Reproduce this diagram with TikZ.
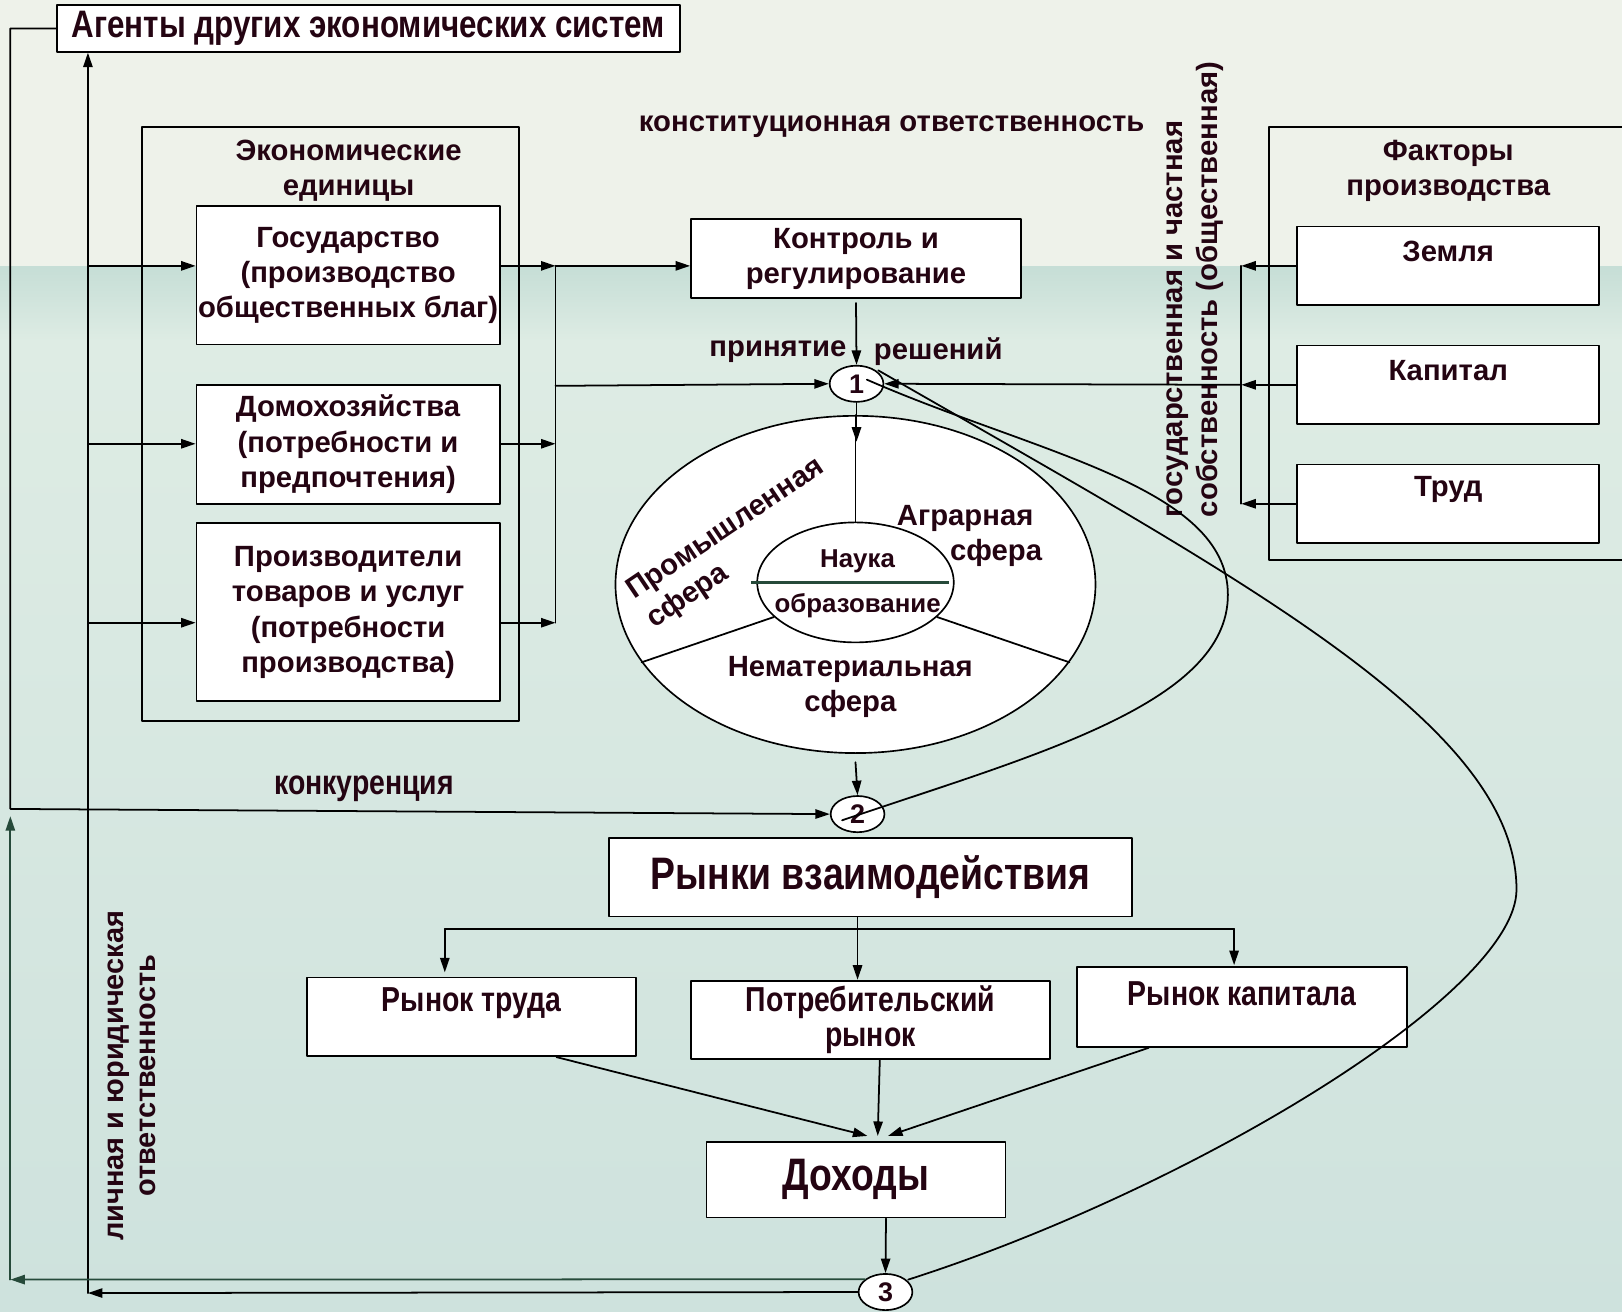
\documentclass[tikz,border=0pt]{standalone}
\usepackage{fontspec}
\setmainfont{Liberation Sans}
\newfontfamily\narrowfont[FakeStretch=0.82]{Liberation Sans}
\usetikzlibrary{arrows.meta,positioning,shapes.geometric}
\definecolor{bgtop}{RGB}{238,242,234}
\definecolor{bgband}{RGB}{198,222,214}
\definecolor{bgmid}{RGB}{222,236,228}
\definecolor{bglow}{RGB}{206,226,221}
\definecolor{txt}{RGB}{36,4,18}
\definecolor{dgreen}{RGB}{38,74,58}
\begin{document}
\begin{tikzpicture}[line cap=round,line join=round,>={Triangle[length=14pt,width=9pt]},x=1pt,y=-1pt,
	box/.style={draw,fill=white,line width=1.8pt,inner sep=0pt},
	frm/.style={draw,line width=1.8pt,inner sep=0pt},
	oval/.style={ellipse,draw,fill=white,line width=1.6pt,inner sep=0pt},
	lbl/.style={text=txt,font=\bfseries\fontsize{28.3}{34}\selectfont,align=center,inner sep=0pt},
	nlbl/.style={text=txt,font=\narrowfont\bfseries\fontsize{33.5}{34}\selectfont,align=center,inner sep=0pt},
	big/.style={text=txt,font=\narrowfont\bfseries\fontsize{44}{50}\selectfont,align=center,inner sep=0pt},
	num/.style={oval,text=txt,font=\bfseries\fontsize{26}{26}\selectfont,minimum width=52pt,minimum height=35pt},
	ln/.style={line width=1.7pt}]
		\useasboundingbox (0,0) rectangle (1568,1268);
		\clip (0,0) rectangle (1568,1268);
		\fill[bgtop] (0,0) rectangle (1568,258);
		\shade[top color=bgband,bottom color=bgmid] (0,258) rectangle (1568,330);
		\shade[top color=bgmid,bottom color=bglow] (0,330) rectangle (1568,1268);
		\node[box,minimum width=602pt,minimum height=45pt,text=txt,font=\narrowfont\bfseries\fontsize{37}{40}\selectfont] (agents) at (356,27.5) {Агенты других экономических систем};
		\node[frm,minimum width=365pt,minimum height=574pt] (units) at (319.5,410) {};
		\node[lbl] (unitst) at (337,165) {Экономические\\единицы};
		\node[box,lbl,minimum width=293pt,minimum height=134pt] (gos) at (336.5,266) {Государство\\(производство\\общественных благ)};
		\node[box,lbl,minimum width=293pt,minimum height=115pt] (dom) at (336.5,429.5) {Домохозяйства\\(потребности и\\предпочтения)};
		\node[box,lbl,minimum width=293pt,minimum height=172pt] (prod) at (336.5,592) {Производители\\товаров и услуг\\(потребности\\производства)};
		\node[box,lbl,minimum width=319pt,minimum height=76pt] (ctrl) at (827.5,250) {Контроль и\\регулирование};
		\node[lbl] (const) at (862,122) {конституционная ответственность};
		\node[lbl] (prin) at (752,340) {принятие};
		\node[lbl] (resh) at (907,340) {решений};
		\node[frm,minimum width=348pt,minimum height=418pt] (fact) at (1401,332) {};
		\node[lbl] (factt) at (1400,165) {Факторы\\производства};
		\node[box,minimum width=292pt,minimum height=76pt] (zem) at (1400,257) {};
		\node[lbl] (zemt) at ([yshift=14pt]zem.center) {Земля};
		\node[box,minimum width=292pt,minimum height=76pt] (kap) at (1400,372) {};
		\node[lbl] (kapt) at ([yshift=14pt]kap.center) {Капитал};
		\node[box,minimum width=292pt,minimum height=76pt] (trud) at (1400,487) {};
		\node[lbl] (trudt) at ([yshift=14pt]trud.center) {Труд};
		\node[lbl,rotate=90,align=left,anchor=west] (own) at (1155,500) {государственная и частная\\собственность (общественная)};
		\node[lbl,rotate=90,font=\bfseries\fontsize{28}{31}\selectfont] (resp) at (127,1040) {личная и юридическая\\ответственность};
		\node[oval,minimum width=464pt,minimum height=326pt] (sph) at (827,565) {};
		\node[oval,minimum width=190pt,minimum height=116pt] (sci) at (827,563) {};
		\draw[ln] (sph.north) -- (sci.north);
		\draw[ln] (sci.203) -- (sph.200);
		\draw[ln] (sci.-23) -- (sph.-20);
		\draw[line width=3.5pt,dgreen,line cap=butt] ([xshift=-5pt]sci.west) -- ([xshift=-5pt]sci.east);
		\node[lbl,font=\bfseries\fontsize{25}{30}\selectfont] (nauka) at (829,543) {Наука};
		\node[lbl,font=\bfseries\fontsize{25}{30}\selectfont] (obr) at (829,586) {образование};
		\node[lbl] (agr) at (933,501) {Аграрная};
		\node[lbl] (agrs) at (963,535) {сфера};
		\node[lbl,rotate=34] (prom) at (702,512) {Промышленная};
		\node[lbl,rotate=34] (proms) at (665,577) {сфера};
		\node[lbl] (nemat) at (822,664) {Нематериальная\\сфера};
		\node[lbl,font=\narrowfont\bfseries\fontsize{33.5}{34}\selectfont] (konk) at (352,762) {конкуренция};
		\node[box,big,minimum width=505pt,minimum height=76pt] (market) at (841.5,848) {Рынки взаимодействия};
		\node[box,minimum width=318pt,minimum height=76pt] (labour) at (456,983) {};
		\node[nlbl] (labourt) at ([yshift=13pt]labour.center) {Рынок труда};
		\node[box,nlbl,minimum width=347pt,minimum height=76pt] (cons) at (841.5,986) {Потребительский\\рынок};
		\node[box,minimum width=319pt,minimum height=77pt] (capm) at (1200.5,973.5) {};
		\node[nlbl] (capmt) at ([yshift=12.5pt]capm.center) {Рынок капитала};
		\node[box,big,minimum width=289pt,minimum height=73pt] (inc) at (827.5,1140.5) {Доходы};
		\node[num] (c1) at (828,371) {1};
		\node[num] (c2) at (829,787) {2};
		\node[num] (c3) at (856,1249) {3};
		\coordinate (la) at (10,782);
		\coordinate (lb) at (85,1250);
		\coordinate (lg) at (10,1237);
		\draw[ln,->] (agents.west) -| (la) -- (c2.west);
		\draw[ln,->] (c3.west) -- (lb);
		\draw[ln,->] (lb) -- (lb |- agents.south);
		\draw[ln,dgreen,->] (c3.148) -- (lg);
		\draw[ln,dgreen,->] (lg) -- (10,789);
		\foreach \n/\yy in {gos/257,dom/429,prod/602}{
			\draw[ln,->] (85,\yy) -- (\n.west |- 0,\yy);
			\draw[ln,->] (\n.east |- 0,\yy) -- (537,\yy);
		}
		\draw[ln] (537,257) -- (537,602);
		\draw[ln,->] (537,257) -- (ctrl.west |- 0,257);
		\draw[ln,->] (537,373) -- (c1.west);
		\foreach \n in {zem,kap,trud}{
			\draw[ln,->] (\n.west) -- (1200,0 |- \n.west);
		}
		\draw[ln] (1200,257) -- (1200,487);
		\draw[ln,->] (1200,372) -- (c1.east);
		\draw[ln,->] ([yshift=-4pt]ctrl.south) -- (c1.north);
		\draw[ln,->] (c1.south) -- (c1.south |- 0,427);
		\draw[ln,->] ([yshift=-8pt]sph.south) -- (c2.north);
		\coordinate (hl) at (430,898);
		\coordinate (hr) at (1193,898);
		\coordinate (hm) at (829,898);
		\draw[ln] (hl) -- (hr);
		\draw[ln,->] (hm |- market.south) -- (hm |- cons.north);
		\draw[ln,->] (hl) -- (430,940);
		\draw[ln,->] (hr) -- (1193,933);
		\draw[ln,->] ([xshift=82pt]labour.south) -- ([xshift=11pt,yshift=5pt]inc.north);
		\draw[ln,->] ([xshift=9pt]cons.south) -- ([xshift=21pt,yshift=5pt]inc.north);
		\draw[ln,->] ([xshift=-90pt]capm.south) -- ([xshift=31pt,yshift=5pt]inc.north);
		\draw[ln,->] ([xshift=29pt]inc.south) -- (c3.north);
		\draw[ln] (849,358) .. controls (1200,560) and (1466,700) .. (1466,860) .. controls (1466,960) and (1150,1150) .. (878,1237);
		\draw[ln] (838,367) .. controls (1000,438) and (1187,470) .. (1187,575) .. controls (1187,680) and (1000,730) .. (814,793);
\end{tikzpicture}
\end{document}
